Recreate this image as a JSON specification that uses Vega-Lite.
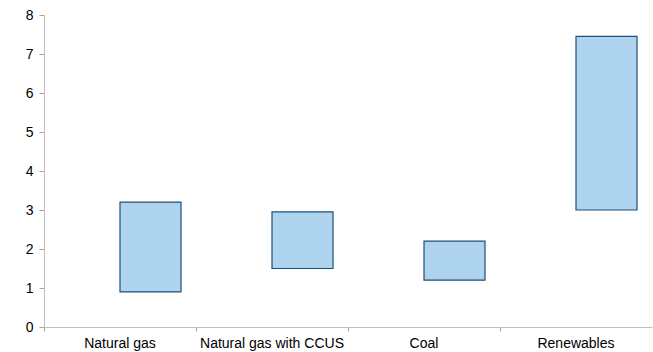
{
  "$schema": "https://vega.github.io/schema/vega-lite/v6.json",
  "width": 608,
  "height": 312,
  "autosize": {"type": "none"},
  "padding": {"left": 44, "top": 15, "right": 1, "bottom": 25},
  "background": "white",
  "config": {
    "view": {"stroke": null},
    "font": "Liberation Sans"
  },
  "data": {
    "values": [
      {"technology": "Natural gas", "series": "range", "low": 0.9, "high": 3.2},
      {"technology": "Natural gas with CCUS", "series": "range", "low": 1.5, "high": 2.95},
      {"technology": "Coal", "series": "range", "low": 1.2, "high": 2.2},
      {"technology": "Renewables", "series": "range", "low": 3.0, "high": 7.45}
    ]
  },
  "mark": {"type": "bar", "fill": "#AED3EF", "stroke": "#1F4E79", "strokeWidth": 1.2},
  "encoding": {
    "x": {
      "field": "technology",
      "type": "nominal",
      "sort": null,
      "scale": {"paddingInner": 0, "paddingOuter": 0},
      "axis": {
        "title": null,
        "labelAngle": 0,
        "bandPosition": 0,
        "tickSize": 4,
        "labelPadding": 5,
        "labelFont": "Liberation Sans",
        "labelFontSize": 14,
        "labelColor": "#000000",
        "domainColor": "#BFBFBF",
        "tickColor": "#A6A6A6"
      }
    },
    "xOffset": {
      "field": "series",
      "type": "nominal",
      "scale": {"domain": ["gap", "range"], "paddingInner": 0, "paddingOuter": 0.246}
    },
    "y": {
      "field": "low",
      "type": "quantitative",
      "scale": {"domain": [0, 8], "nice": false},
      "axis": {
        "title": null,
        "grid": false,
        "values": [0, 1, 2, 3, 4, 5, 6, 7, 8],
        "labelOverlap": false,
        "tickSize": 5,
        "labelPadding": 6,
        "labelFont": "Liberation Sans",
        "labelFontSize": 14,
        "labelColor": "#000000",
        "domainColor": "#BFBFBF",
        "tickColor": "#A6A6A6"
      }
    },
    "y2": {"field": "high"}
  }
}
